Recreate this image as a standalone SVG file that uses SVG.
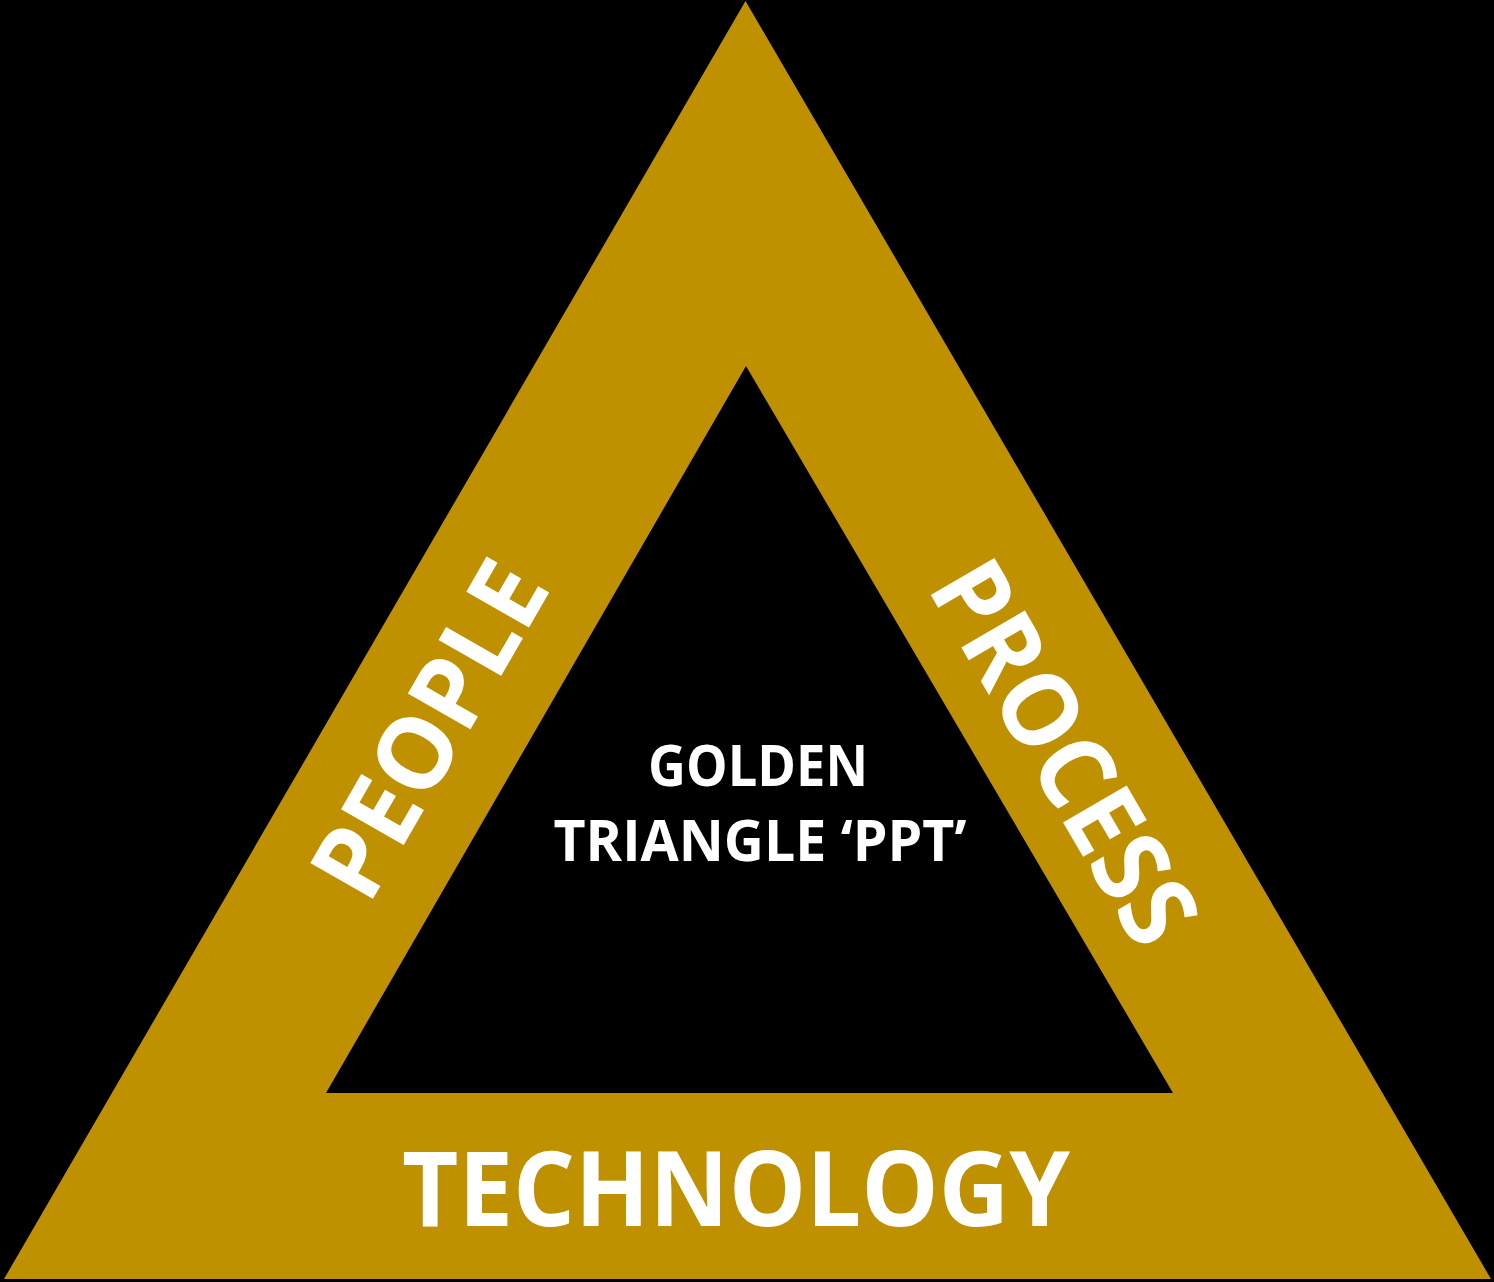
<svg xmlns="http://www.w3.org/2000/svg" width="1494" height="1282" viewBox="0 0 1494 1282">
<style>
.lbl{font-family:"Open Sans","Liberation Sans",sans-serif;font-weight:700;fill:#FFFFFF;text-anchor:middle}
</style>
<rect x="0" y="0" width="1494" height="1282" fill="#000000"/>
<g id="triangle">
<path d="M745.5,1 L1491,1279 L4,1279 Z M746,366 L326,1093 L1173,1093 Z" fill="#BF9000" fill-rule="evenodd"/>
</g>
<g id="connectors"></g>
<g id="people">
<text class="lbl" transform="translate(429,729) rotate(-60.1)" x="0" y="36" font-size="101" textLength="368" lengthAdjust="spacingAndGlyphs">PEOPLE</text>
</g>
<g id="process">
<text class="lbl" transform="translate(1065,752) rotate(59.8)" x="0" y="37" font-size="103" textLength="424" lengthAdjust="spacingAndGlyphs">PROCESS</text>
</g>
<g id="technology">
<text class="lbl" x="736" y="1226" font-size="104" textLength="668" lengthAdjust="spacingAndGlyphs">TECHNOLOGY</text>
</g>
<g id="center">
<text class="lbl" x="758" y="786" font-size="57" textLength="220" lengthAdjust="spacingAndGlyphs">GOLDEN</text>
<text class="lbl" x="760" y="861" font-size="57" textLength="413" lengthAdjust="spacingAndGlyphs">TRIANGLE ‘PPT’</text>
</g>
</svg>
